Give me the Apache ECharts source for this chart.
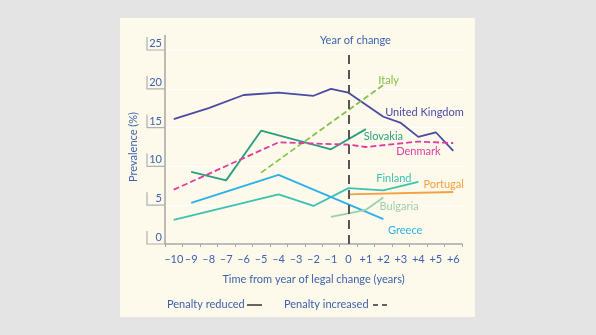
<!DOCTYPE html>
<html>
<head>
<meta charset="utf-8">
<script src="https://cdn.jsdelivr.net/npm/echarts@6/dist/echarts.min.js"></script>
<style>
  html, body { margin: 0; padding: 0; background: #e4e4e4; }
  #chart { width: 596px; height: 335px; }
</style>
</head>
<body>
<div id="chart"></div>
<script>
// Years relative to the year the law changed
const years = ['–10','–9','–8','–7','–6','–5','–4','–3','–2','–1','0','+1','+2','+3','+4','+5','+6'];
const yTicks = [0, 5, 10, 15, 20, 25];

// Prevalence (%) per country, null where no survey year
const unitedKingdom = [16.1, null, 17.5, null, 19.2, null, 19.5, null, 19.1, 20.0, 19.5, null, 16.4, 15.6, 13.8, 14.4, 12.0];
const italy         = [null, null, null, null, null, 9.2, null, null, null, null, null, null, 20.5, null, null, null, null];
const slovakia      = [null, 9.3, null, 8.2, null, 14.6, null, null, null, 12.2, null, 14.8, null, null, null, null, null];
const denmark       = [7.0, null, null, null, null, null, 13.1, null, null, null, 12.8, 12.5, null, null, 13.2, null, 13.0];
const finland       = [3.1, null, null, null, null, null, 6.4, null, 4.9, null, 7.2, null, 6.9, null, 8.0, null, null];
const greece        = [null, 5.3, null, null, null, null, 8.9, null, null, null, null, null, 3.2, null, null, null, null];
const portugal      = [null, null, null, null, null, null, null, null, null, null, 6.4, null, null, null, null, null, 6.7];
const bulgaria      = [null, null, null, null, null, null, null, null, null, 3.5, null, 4.4, 6.0, null, null, null, null];

// Name tags next to each line: [years from change, percent]
const tagAnchors = {
  'Italy':          [2.3, 21.1],
  'United Kingdom': [4.35, 16.9],
  'Slovakia':       [2.0, 13.8],
  'Denmark':        [4.0, 11.9],
  'Finland':        [2.6, 8.5],
  'Portugal':       [5.45, 7.7],
  'Bulgaria':       [2.9, 4.8],
  'Greece':         [3.25, 1.8]
};

const FONT = 'Lato, "Noto Sans", sans-serif';
const TEXT_BLUE = '#3d62ad';

const countries = [
  { name: 'United Kingdom', data: unitedKingdom, color: '#4a4aa6', dashed: false },
  { name: 'Italy',          data: italy,         color: '#84c24c', dashed: true },
  { name: 'Slovakia',       data: slovakia,      color: '#2a9e80', dashed: false },
  { name: 'Denmark',        data: denmark,       color: '#e03a9f', dashed: true },
  { name: 'Finland',        data: finland,       color: '#3cc2b2', dashed: false },
  { name: 'Greece',         data: greece,        color: '#2cb0e8', dashed: false },
  { name: 'Portugal',       data: portugal,      color: '#f4a03e', dashed: false },
  { name: 'Bulgaria',       data: bulgaria,      color: '#9dcfab', dashed: false }
];

const chart = echarts.init(document.getElementById('chart'), null, { renderer: 'canvas' });

const series = countries.map(c => ({
  name: c.name,
  type: 'line',
  data: c.data,
  connectNulls: true,
  showSymbol: false,
  symbol: 'none',
  animation: false,
  z: 3,
  lineStyle: { color: c.color, width: 1.8, type: c.dashed ? [6, 3] : 'solid' }
}));

// Vertical dashed marker at the year of change
series.push({
  name: 'change',
  type: 'line',
  data: [],
  animation: false,
  markLine: {
    silent: true,
    symbol: 'none',
    animation: false,
    lineStyle: { color: '#555', width: 2, type: [9, 6] },
    label: {
      show: true,
      position: 'end',
      formatter: 'Year of change',
      color: TEXT_BLUE,
      fontFamily: FONT,
      fontSize: 11,
      offset: [7, 1]
    },
    data: [{ xAxis: '0' }]
  }
});

chart.setOption({
  backgroundColor: '#e4e4e4',
  animation: false,
  grid: { left: 165, right: 134, top: 50, bottom: 91 },
  xAxis: {
    type: 'category',
    data: years,
    boundaryGap: true,
    name: 'Time from year of legal change (years)',
    nameLocation: 'middle',
    nameGap: 30,
    nameTextStyle: { color: TEXT_BLUE, fontFamily: FONT, fontSize: 11 },
    axisLine: { lineStyle: { color: '#a6a6a6', width: 1.5 } },
    axisTick: { show: true, length: 3, lineStyle: { color: '#a6a6a6' } },
    axisLabel: { color: TEXT_BLUE, fontFamily: FONT, fontSize: 11, margin: 10, interval: 0 },
    splitLine: { show: false }
  },
  yAxis: {
    type: 'value',
    min: 0,
    max: 25,
    interval: 5,
    name: 'Prevalence (%)',
    nameLocation: 'middle',
    nameGap: 26,
    nameRotate: 90,
    nameTextStyle: { color: TEXT_BLUE, fontFamily: FONT, fontSize: 11 },
    axisLine: { show: false },
    axisTick: { show: false },
    axisLabel: {
      color: TEXT_BLUE, fontFamily: FONT, fontSize: 11, margin: 3,
      verticalAlign: 'bottom', padding: [0, 0, 1, 0]
    },
    splitLine: { show: true, lineStyle: { color: '#ffffff', width: 1.2 } }
  },
  series: series
});

// Decorations that follow the axis scale: y-axis line, tick brackets and the line tags
function px(xIndex, value) {
  return chart.convertToPixel({ xAxisIndex: 0, yAxisIndex: 0 }, [xIndex, value]);
}
const zeroIdx = years.indexOf('0');
const stepX = px(1, 0)[0] - px(0, 0)[0];
const axisX = px(0, 0)[0] - stepX / 2;
const graphics = [];

// cream plot panel
graphics.push({
  type: 'rect', z: -10, silent: true,
  shape: { x: 120, y: 18, width: 355, height: 299 },
  style: { fill: '#fdf9eb' }
});

// y-axis line, running a little above the top tick
const yTop = px(0, 25)[1];
const yBottom = px(0, 0)[1];
graphics.push({
  type: 'line', z: 5, silent: true,
  shape: { x1: axisX, y1: yBottom, x2: axisX, y2: yTop - 15 },
  style: { stroke: '#a6a6a6', lineWidth: 1.5 }
});

// bracket under each y tick label
yTicks.forEach(v => {
  const y = px(0, v)[1];
  graphics.push({
    type: 'polyline', z: 5, silent: true,
    shape: { points: [[axisX - 18, y - 13], [axisX - 18, y], [axisX, y]] },
    style: { stroke: '#b0b0b0', lineWidth: 1.2, fill: null }
  });
});

// tags beside each line
countries.forEach(c => {
  const a = tagAnchors[c.name];
  if (!a) return;
  const base = px(zeroIdx, a[1]);
  graphics.push({
    type: 'text', z: 6, silent: true,
    x: base[0] + a[0] * stepX, y: base[1],
    style: {
      text: c.name, fill: c.color, font: '11px ' + FONT,
      textAlign: 'center', textVerticalAlign: 'middle'
    }
  });
});

// line-style key
graphics.push(
  { type: 'text', z: 6, silent: true, x: 167, y: 304,
    style: { text: 'Penalty reduced', fill: TEXT_BLUE, font: '11px ' + FONT, textAlign: 'left', textVerticalAlign: 'middle' } },
  { type: 'line', z: 6, silent: true, shape: { x1: 247, y1: 305, x2: 262, y2: 305 },
    style: { stroke: '#333', lineWidth: 1.5 } },
  { type: 'text', z: 6, silent: true, x: 284, y: 304,
    style: { text: 'Penalty increased', fill: TEXT_BLUE, font: '11px ' + FONT, textAlign: 'left', textVerticalAlign: 'middle' } },
  { type: 'line', z: 6, silent: true, shape: { x1: 373, y1: 305, x2: 387, y2: 305 },
    style: { stroke: '#333', lineWidth: 1.5, lineDash: [5, 4] } }
);

chart.setOption({ graphic: graphics });
</script>
</body>
</html>
